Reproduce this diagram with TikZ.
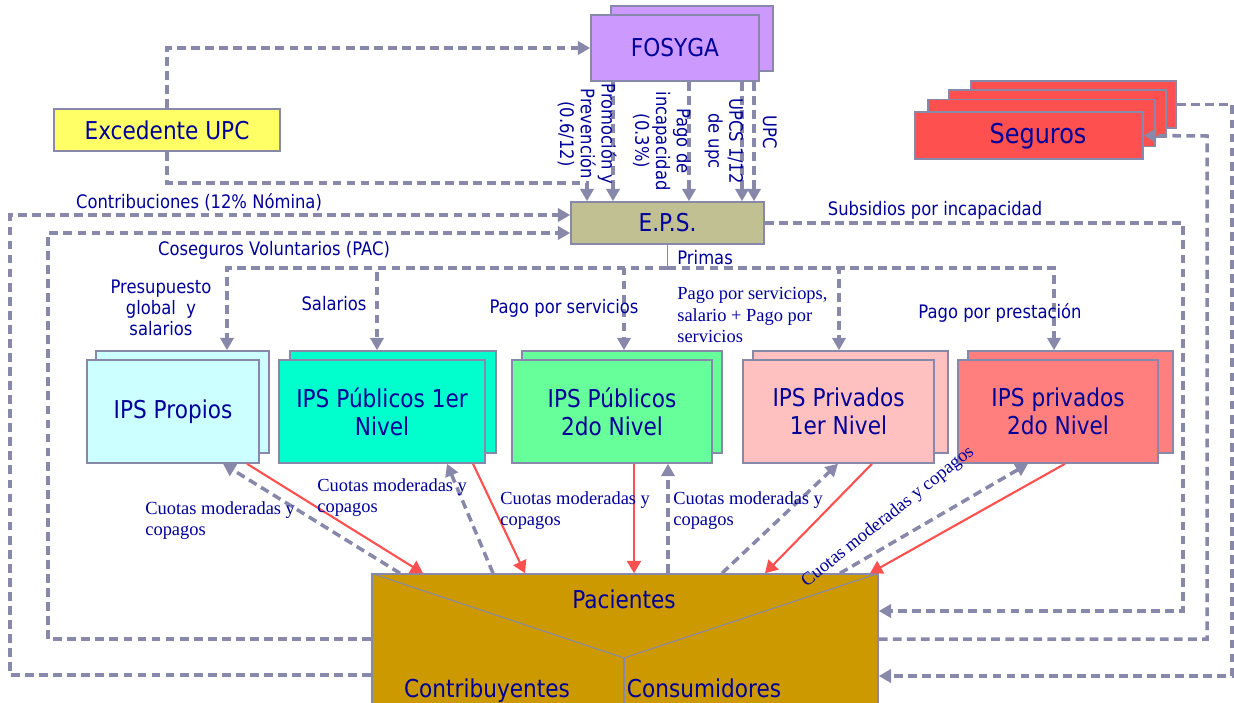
\documentclass[tikz,border=0pt]{standalone}
\usepackage{fontspec}
\setmainfont{Liberation Serif}
\newfontfamily\tahoma{DejaVu Sans}[FakeStretch=0.88]
\usetikzlibrary{arrows.meta,calc}

\definecolor{gris}{HTML}{8888AA}
\definecolor{azul}{HTML}{000099}
\definecolor{rojo}{HTML}{FF5050}
\definecolor{cFosyga}{HTML}{CC99FF}
\definecolor{cExced}{HTML}{FFFF66}
\definecolor{cEps}{HTML}{C0C093}
\definecolor{cSeguros}{HTML}{FF5050}
\definecolor{cPropios}{HTML}{CCFFFF}
\definecolor{cPub1}{HTML}{00FFCC}
\definecolor{cPub2}{HTML}{66FF99}
\definecolor{cPriv1}{HTML}{FFC0C0}
\definecolor{cPriv2}{HTML}{FF7F7F}
\definecolor{cPac}{HTML}{CC9900}

\begin{document}
\begin{tikzpicture}[x=0.02cm, y=-0.02cm,
  rotulo/.style={text=azul, inner sep=0pt, align=center,
    font=\tahoma\fontsize{14}{16}\selectfont},
  caja/.style={rotulo, draw=gris, line width=0.9pt},
  flujo/.style={draw=gris, line width=2pt, dash pattern=on 5pt off 3pt,
    -{Triangle[width=7.5pt,length=7pt]}},
  pago/.style={draw=rojo, line width=1.2pt, -{Triangle[width=8pt,length=7pt]}},
  etiqueta/.style={text=azul, inner sep=0pt, align=center,
    font=\tahoma\fontsize{10.6}{11.8}\selectfont},
  nota/.style={text=azul, inner sep=0pt, align=left, anchor=west,
    font=\fontsize{10.5}{12}\selectfont}]
  \clip (0,0) rectangle (1234,703);

  \node[caja, fill=cFosyga, minimum width=32.4mm, minimum height=13mm] (fosygab) at (692,38.5) {};
  \node[caja, fill=cFosyga, minimum width=33.6mm, minimum height=13.2mm] (fosyga) at (675,48) {FOSYGA};
  \node[caja, fill=cExced, minimum width=45.2mm, minimum height=8.4mm] (excedente) at (167,130) {Excedente UPC};
  \node[caja, fill=cEps, minimum width=38.6mm, minimum height=8.4mm] (eps) at (667.5,223) {E.P.S.};

  \node[caja, fill=cSeguros, minimum width=41mm, minimum height=9.4mm] (seguros4) at (1073.5,104.5) {};
  \node[caja, fill=cSeguros, minimum width=43.4mm, minimum height=9.4mm] (seguros3) at (1057.5,113.5) {};
  \node[caja, fill=cSeguros, minimum width=45.4mm, minimum height=9.4mm] (seguros2) at (1041.5,123) {};
  \node[caja, fill=cSeguros, minimum width=45.6mm, minimum height=9.4mm] (seguros) at (1029,135.5) {};
  \node[rotulo, font=\tahoma\fontsize{15.5}{18}\selectfont] (tseguros) at (1038,136) {Seguros};

  \node[caja, fill=cPropios, minimum width=34.6mm, minimum height=20.4mm] (ips1b) at (182.5,402) {};
  \node[caja, fill=cPropios, minimum width=34.4mm, minimum height=20.6mm] (ips1) at (173,411.5) {IPS Propios};
  \node[caja, fill=cPub1, minimum width=41.2mm, minimum height=20.4mm] (ips2b) at (393,402) {};
  \node[caja, fill=cPub1, minimum width=41.2mm, minimum height=20.6mm] (ips2) at (382,411.5) {IPS Públicos 1er\\Nivel};
  \node[caja, fill=cPub2, minimum width=40mm, minimum height=20.4mm] (ips3b) at (622,402) {};
  \node[caja, fill=cPub2, minimum width=40mm, minimum height=20.6mm] (ips3) at (612,411.5) {IPS Públicos\\2do Nivel};
  \node[caja, fill=cPriv1, minimum width=39mm, minimum height=20.4mm] (ips4b) at (850.5,402) {};
  \node[caja, fill=cPriv1, minimum width=38.2mm, minimum height=20.6mm] (ips4) at (838.5,411.5) {IPS Privados\\1er Nivel};
  \node[caja, fill=cPriv2, minimum width=41mm, minimum height=20.4mm] (ips5b) at (1070.5,402) {};
  \node[caja, fill=cPriv2, minimum width=40mm, minimum height=20.6mm] (ips5) at (1058,411.5) {IPS privados\\2do Nivel};

  \node[caja, fill=cPac, minimum width=101.2mm, minimum height=37.2mm] (pacientes) at (625,667) {};
  \coordinate (vertice) at (624,658);
  \draw[gris, line width=0.6pt] (pacientes.north west) -- (vertice) -- (pacientes.north east);
  \draw[gris, line width=0.6pt] (vertice) -- (vertice |- pacientes.south);
  \node[rotulo] (tpac) at (624,599) {Pacientes};
  \node[rotulo, anchor=base] (tcontrib) at (487,697) {Contribuyentes};
  \node[rotulo, anchor=base] (tconsum) at (704,697) {Consumidores};

  \draw[flujo] (excedente.north) |- (fosyga.west);
  \draw[flujo] (excedente.south) |- (587,183) -- (587,0 |- eps.north);
  \foreach \x in {613,689,742,754}
    \draw[flujo] (\x,0 |- fosyga.south) -- (\x,0 |- eps.north);

  \coordinate (primas) at ($(eps.south)+(0,23)$);
  \draw[gris, line width=0.6pt] (eps.south) -- (primas);
  \foreach \x/\t in {227/ips1b, 377/ips2b, 624/ips3b, 839/ips4b, 1054/ips5b}
    \draw[flujo] (primas) -| (\x,0 |- \t.north);

  \draw[flujo] ($(pacientes.north west)+(0,102)$) -| (10,215) -- (eps.west |- 0,215);
  \draw[flujo] ($(pacientes.north west)+(0,66)$) -| (48,233) -- (eps.west |- 0,233);
  \draw[flujo] (eps.east) -| (1183,611) -- (pacientes.east |- 0,611);
  \draw[flujo] ($(pacientes.north east)+(0,66)$) -| (1207,136) -- (seguros.east);
  \draw[flujo] (seguros4.east) -| (1232,676) -- (pacientes.east |- 0,676);

  \draw[flujo] (400,0 |- pacientes.north) -- (223,0 |- ips1.south);
  \draw[flujo] (493,0 |- pacientes.north) -- (447,0 |- ips2.south);
  \draw[flujo] (668,0 |- pacientes.north) -- (668,0 |- ips3.south);
  \draw[flujo] (722,0 |- pacientes.north) -- (838,0 |- ips4.south);
  \draw[flujo] (840,0 |- pacientes.north) -- (1028,0 |- ips5.south);

  \draw[pago] (247,0 |- ips1.south) -- (423,0 |- pacientes.north);
  \draw[pago] (473,0 |- ips2.south) -- (525,0 |- pacientes.north);
  \draw[pago] (634,0 |- ips3.south) -- (634,0 |- pacientes.north);
  \draw[pago] (872,0 |- ips4.south) -- (765,0 |- pacientes.north);
  \draw[pago] (1065,0 |- ips5.south) -- (870,0 |- pacientes.north);

  \node[etiqueta, rotate=-90] (lpromo) at (587,134) {Promoción y\\Prevención\\(0.6/12)};
  \node[etiqueta, rotate=-90] (lincap) at (662,141) {Pago de\\incapacidad\\(0.3\%)};
  \node[etiqueta, rotate=-90] (lupcs) at (724,141) {UPCS 1/12\\de upc};
  \node[etiqueta, rotate=-90] (lupc) at (770,132) {UPC};
  \node[etiqueta] (lcontrib) at (199,202) {Contribuciones (12\% Nómina)};
  \node[etiqueta] (lcoseg) at (274,250) {Coseguros Voluntarios (PAC)};
  \node[etiqueta] (lsubsid) at (935,210) {Subsidios por incapacidad};
  \node[etiqueta, anchor=west] (lprimas) at (677,258) {Primas};
  \node[etiqueta] (lpresup) at (161,308) {Presupuesto\\global\ \ y\\salarios};
  \node[etiqueta] (lsalar) at (334,304) {Salarios};
  \node[etiqueta] (lpagoserv) at (564,308) {Pago por servicios};
  \node[etiqueta] (lprestac) at (1000,313) {Pago por prestación};
  \node[nota] (lmixto) at (677,315) {Pago por serviciops,\\salario + Pago por\\servicios};

  \node[nota] (lcuota1) at (145,521) {Cuotas moderadas y\\copagos};
  \node[nota] (lcuota2) at (317,498) {Cuotas moderadas y\\copagos};
  \node[nota] (lcuota3) at (500,511) {Cuotas moderadas y\\copagos};
  \node[nota] (lcuota4) at (673,511) {Cuotas moderadas y\\copagos};
  \node[nota, anchor=center, rotate=38.5] (lcuota5) at (888,517) {Cuotas moderadas y copagos};
\end{tikzpicture}
\end{document}
